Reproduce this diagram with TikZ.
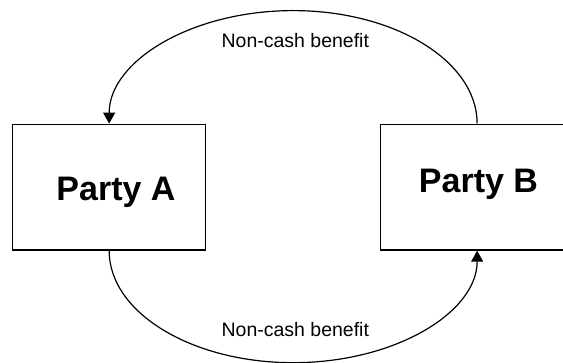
\documentclass[tikz,border=0pt]{standalone}
\usepackage{fontspec}
\setmainfont{Liberation Sans}
\usetikzlibrary{arrows.meta}
\begin{document}
\begin{tikzpicture}[x=1pt,y=1pt,
  party/.style={draw, line width=1.4pt, minimum width=193pt, minimum height=125.7pt, inner sep=0pt},
  partyname/.style={font=\fontsize{34}{40}\selectfont\bfseries, anchor=base, inner sep=0pt},
  flowlabel/.style={font=\fontsize{19.5}{23}\selectfont, anchor=base, inner sep=0pt},
  flow/.style={line width=1.2pt, -{Triangle[length=11pt,width=12pt]}}]
\useasboundingbox (0,0) rectangle (563,363);
% the two parties
\node[party] (A) at (109.15,175.85) {};
\node[party] (B) at (477.15,175.85) {};
\node[partyname] (nameA) at (116,162) {Party A};
\node[partyname] (nameB) at (478.5,170.3) {Party B};
% benefit flowing each way
\draw[flow] (B.north) arc[start angle=0, end angle=180, x radius=184, y radius=113];
\draw[flow] (A.south) arc[start angle=180, end angle=360, x radius=184, y radius=112];
\node[flowlabel] (topflow) at (295.3,315.3) {Non-cash benefit};
\node[flowlabel] (bottomflow) at (295.3,26) {Non-cash benefit};
\end{tikzpicture}
\end{document}
